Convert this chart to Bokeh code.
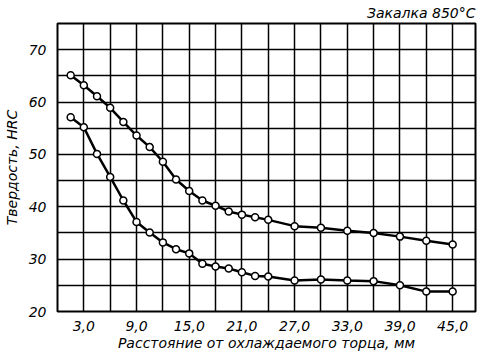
from bokeh.plotting import figure
from bokeh.models import FixedTicker, Range1d, Title
from bokeh.embed import file_html
from bokeh.resources import INLINE

# distance from quenched end, mm
dist = [1.5, 3, 4.5, 6, 7.5, 9, 10.5, 12, 13.5, 15, 16.5, 18, 19.5, 21, 22.5, 24,
        27, 30, 33, 36, 39, 42, 45]
# upper boundary of hardenability band, HRC
hrc_upper = [65.1, 63.2, 61.1, 58.9, 56.2, 53.6, 51.4, 48.6, 45.2, 43.0, 41.2, 40.2,
             39.1, 38.5, 38.0, 37.5, 36.3, 36.0, 35.4, 35.0, 34.3, 33.5, 32.8]
# lower boundary of hardenability band, HRC
hrc_lower = [57.1, 55.2, 50.1, 45.7, 41.2, 37.1, 35.1, 33.2, 31.9, 31.1, 29.1, 28.6,
             28.2, 27.5, 26.8, 26.7, 25.9, 26.1, 25.9, 25.8, 25.0, 23.8, 23.8]

x_ticks = [3, 9, 15, 21, 27, 33, 39, 45]
x_tick_labels = {3: "3,0", 9: "9,0", 15: "15,0", 21: "21,0", 27: "27,0",
                 33: "33,0", 39: "39,0", 45: "45,0"}
y_ticks = [20, 30, 40, 50, 60, 70]
x_grid = [3, 6, 9, 12, 15, 18, 21, 24, 27, 30, 33, 36, 39, 42, 45]
y_grid = [25, 30, 35, 40, 45, 50, 55, 60, 65, 70]

FONT = "DejaVu Sans"

p = figure(width=484, height=353, output_backend="svg", toolbar_location=None,
           x_range=Range1d(0, 47.6), y_range=Range1d(20, 75),
           min_border_left=10, min_border_right=9, min_border_top=2,
           min_border_bottom=2)
p.background_fill_color = "white"
p.border_fill_color = "white"
p.outline_line_color = "black"
p.outline_line_width = 2

title = Title(text="Закалка 850°С", align="right", text_font=FONT,
              text_font_style="italic", text_font_size="14px",
              text_color="black", standoff=5)
p.add_layout(title, "above")

for ax in (p.xaxis[0], p.yaxis[0]):
    ax.axis_line_color = None
    ax.major_tick_line_color = None
    ax.minor_tick_line_color = None
    ax.major_label_text_font = FONT
    ax.major_label_text_font_style = "italic"
    ax.major_label_text_font_size = "14px"
    ax.major_label_text_color = "black"
    ax.axis_label_text_font = FONT
    ax.axis_label_text_font_style = "italic"
    ax.axis_label_text_font_size = "14px"
    ax.axis_label_text_color = "black"

p.xaxis.ticker = FixedTicker(ticks=x_ticks)
p.xaxis.major_label_overrides = x_tick_labels
p.xaxis.major_label_standoff = 3
p.xaxis.axis_label = "Расстояние от охлаждаемого торца, мм"
p.xaxis.axis_label_standoff = 1

p.yaxis.ticker = FixedTicker(ticks=y_ticks)
p.yaxis.major_label_standoff = 5
p.yaxis.axis_label = "Твердость, HRC"
p.yaxis.axis_label_standoff = 6

p.xgrid.ticker = FixedTicker(ticks=x_grid)
p.ygrid.ticker = FixedTicker(ticks=y_grid)
for g in (p.xgrid[0], p.ygrid[0]):
    g.grid_line_color = "black"
    g.grid_line_width = 1.5
    g.grid_line_alpha = 1.0

for vals in (hrc_upper, hrc_lower):
    p.line(dist, vals, line_color="black", line_width=2.5)
    p.scatter(dist, vals, size=7, fill_color="white", line_color="black",
              line_width=1.5)

open("out.html", "w").write(file_html(p, INLINE))
